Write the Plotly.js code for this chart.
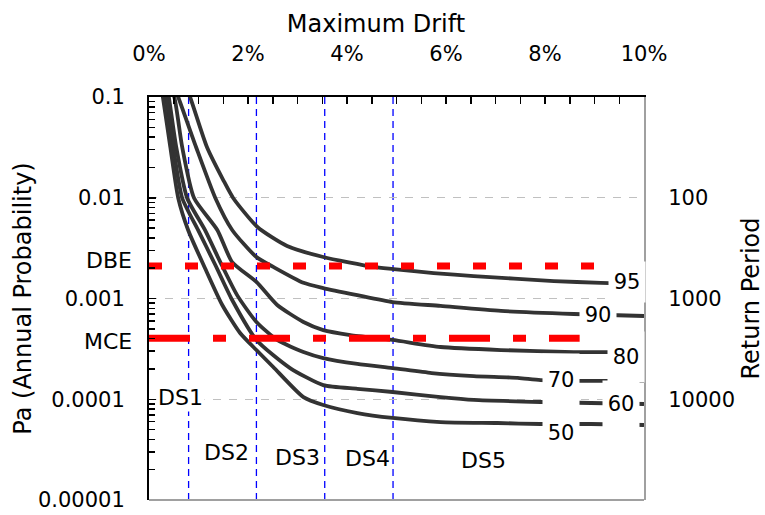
<!DOCTYPE html>
<html>
<head>
<meta charset="utf-8">
<script src="https://cdn.plot.ly/plotly-3.0.1.min.js"></script>
<style>html,body{margin:0;padding:0;background:#fff;}#chart{width:765px;height:515px;}</style>
</head>
<body>
<div id="chart"></div>
<script>
// ---- data (drift in %, Pa = annual probability) ----
const curveNames = ['95', '90', '80', '70', '60', '50'];

const drift95 = [0.69, 0.83, 1.17, 1.50, 1.70, 2.19, 2.79, 3.52, 4.53, 4.94, 5.75, 6.56, 8.18, 9.13, 10];
const pa95    = [0.148, 0.1, 0.0319, 0.015, 0.00995, 0.00513, 0.00332, 0.00258, 0.00206, 0.00196, 0.00179, 0.00167, 0.00149, 0.00143, 0.00139];

const drift90 = [0.45, 0.59, 0.95, 1.34, 1.68, 2.17, 2.51, 3.12, 3.52, 4.21, 4.92, 5.89, 7.11, 8.58, 10];
const pa90    = [0.148, 0.1, 0.0319, 0.00995, 0.00479, 0.00258, 0.00206, 0.00143, 0.00127, 0.00108, 0.000923, 0.000843, 0.000752, 0.000702, 0.00067];

const drift80 = [0.36, 0.51, 0.67, 0.91, 1.38, 1.68, 2.17, 2.59, 3.12, 3.52, 4.07, 4.92, 5.89, 7.11, 8.58, 10];
const pa80    = [0.148, 0.1, 0.0319, 0.00995, 0.00479, 0.0023, 0.00146, 0.000862, 0.000585, 0.000486, 0.000434, 0.000388, 0.00033, 0.000308, 0.000294, 0.000294];

const drift70 = [0.33, 0.40, 0.55, 0.77, 1.13, 1.44, 1.78, 2.17, 2.59, 3.12, 3.52, 4.21, 4.92, 5.71, 6.56, 7.45, 7.91, 8.93, 10];
const pa70    = [0.148, 0.1, 0.0319, 0.00995, 0.00479, 0.0023, 0.00108, 0.000585, 0.000388, 0.000294, 0.000256, 0.000224, 0.000204, 0.000182, 0.00017, 0.000163, 0.000155, 0.000152, 0.000152];

const drift60 = [0.24, 0.34, 0.49, 0.67, 0.99, 1.34, 1.68, 2.17, 2.85, 3.52, 4.21, 4.92, 5.89, 6.56, 7.91, 8.93, 10];
const pa60    = [0.148, 0.1, 0.0319, 0.00995, 0.00479, 0.00215, 0.000966, 0.000388, 0.000204, 0.000138, 0.000127, 0.000118, 0.000105, 0.0000984, 0.0000939, 0.0000918, 0.0000897];

const drift50 = [0.22, 0.28, 0.43, 0.59, 0.79, 1.13, 1.48, 1.84, 2.17, 2.51, 3.12, 3.52, 4.21, 4.92, 5.89, 7.04, 7.91, 8.93, 10];
const pa50    = [0.148, 0.1, 0.0319, 0.00995, 0.00479, 0.00201, 0.000862, 0.000455, 0.000308, 0.000209, 0.000105, 0.0000877, 0.000073, 0.0000652, 0.0000594, 0.0000581, 0.0000568, 0.0000568, 0.0000555];

// hazard levels (return period, years) drawn on the right-hand Return Period axis
const hazardNames = ['DBE', 'MCE'];
const hazardRP    = [475, 2475];
const hazardDrift = [[0, 9.0], [0, 8.7]];

// damage-state boundaries (drift %) and labels
const dsBounds = [0.80, 2.17, 3.55, 4.93];
const dsNames  = ['DS1', 'DS2', 'DS3', 'DS4', 'DS5'];
const dsLabelX = [0.63, 1.56, 3.0, 4.41, 6.76];
const dsLabelY = [0.000105, 0.0000293, 0.0000267, 0.0000261, 0.0000249];

// curve label positions (drift %, Pa)
const lblX = [9.66, 9.07, 9.64, 8.32, 9.53, 8.32];
const lblY = [0.00146, 0.000685, 0.000262, 0.000155, 0.0000897, 0.0000462];
const lblH = [40, 28, 50, 52, 46, 40];

// axis ticks
const yTickVals = [0.1, 0.01, 0.001, 0.0001, 0.00001];
const yTickText = ['0.1', '0.01', '0.001', '0.0001', '0.00001'];
const rpTickVals = [100, 1000, 10000];
const rpTickText = ['100', '1000', '10000'];

// ---- build ----
const FONT = 'DejaVu Sans, Verdana, sans-serif';
const curveX = [drift95, drift90, drift80, drift70, drift60, drift50];
const curveY = [pa95, pa90, pa80, pa70, pa60, pa50];

// minor log ticks 2..9 in each decade
const yMinor = [];
for (let e = -5; e < -1; e++) for (let d = 2; d <= 9; d++) yMinor.push(d * Math.pow(10, e));

const traces = [];
curveNames.forEach((n, i) => {
  traces.push({
    x: curveX[i], y: curveY[i], type: 'scatter', mode: 'lines', name: n,
    line: {color: '#333333', width: 3.8, shape: 'spline', smoothing: 0.6},
    showlegend: false, hoverinfo: 'skip'
  });
});
const hazardDash = ['13px,23px', '41px,23px,13px,23px'];
hazardNames.forEach((n, i) => {
  traces.push({
    x: hazardDrift[i], y: [hazardRP[i], hazardRP[i]], yaxis: 'y2', type: 'scatter', mode: 'lines', name: n,
    line: {color: '#ff0000', width: 7, dash: hazardDash[i]},
    showlegend: false, hoverinfo: 'skip'
  });
});

const shapes = dsBounds.map(v => ({
  type: 'line', xref: 'x', yref: 'paper', x0: v, x1: v, y0: 0, y1: 1,
  line: {color: '#0000ff', width: 1.3, dash: '7px,5px'}, layer: 'below'
}));
shapes.push({type: 'line', xref: 'paper', yref: 'paper', x0: 0, x1: 1, y0: 0, y1: 0,
  line: {color: '#a0a0a0', width: 2}, layer: 'above'});

const annotations = [];
curveNames.forEach((n, i) => {
  annotations.push({
    text: n, x: lblX[i], y: Math.log10(lblY[i]), xref: 'x', yref: 'y',
    showarrow: false, bgcolor: '#ffffff', width: 36, height: lblH[i], borderpad: 0,
    font: {family: FONT, size: 21, color: '#000'}
  });
});
dsNames.forEach((n, i) => {
  annotations.push({
    text: n, x: dsLabelX[i], y: Math.log10(dsLabelY[i]), xref: 'x', yref: 'y',
    showarrow: false, bgcolor: '#ffffff', borderpad: 1,
    font: {family: FONT, size: 22, color: '#000'}
  });
});
const hazShift = [5, -3];
hazardNames.forEach((n, i) => {
  annotations.push({
    text: n, x: -0.03, y: Math.log10(hazardRP[i]), xref: 'paper', yref: 'y2',
    xanchor: 'right', showarrow: false, yshift: hazShift[i],
    font: {family: FONT, size: 22, color: '#000'}
  });
});

const layout = {
  width: 765, height: 515,
  margin: {l: 149, r: 121, t: 97, b: 15},
  paper_bgcolor: '#ffffff', plot_bgcolor: '#ffffff',
  font: {family: FONT, size: 21, color: '#000'},
  title: {text: 'Maximum Drift', font: {family: FONT, size: 24, color: '#000'},
    xref: 'paper', x: 0.4586, xanchor: 'center', yref: 'container', y: 0.955, yanchor: 'middle'},
  xaxis: {
    side: 'top', range: [0, 10], tickmode: 'linear', tick0: 0, dtick: 2, ticksuffix: '%',
    ticks: 'inside', ticklen: 7, tickwidth: 1.5, tickcolor: '#000',
    minor: {dtick: 0.5, tick0: 0, ticks: 'inside', ticklen: 7, tickwidth: 1.5, tickcolor: '#000', showgrid: false},
    showline: true, linecolor: '#000', linewidth: 2, showgrid: false, zeroline: false,
    ticklabelstandoff: 26, tickfont: {family: FONT, size: 21, color: '#000'}
  },
  yaxis: {
    type: 'log', range: [-5, -1], tickmode: 'array', tickvals: yTickVals, ticktext: yTickText,
    ticks: 'inside', ticklen: 7, tickwidth: 1.5, tickcolor: '#000',
    minor: {tickmode: 'array', tickvals: yMinor, ticks: 'inside', ticklen: 6, tickwidth: 1.5, tickcolor: '#000', showgrid: false},
    showline: true, linecolor: '#000', linewidth: 2,
    showgrid: true, gridcolor: '#c0c0c0', gridwidth: 1, griddash: '8px,8px',
    zeroline: false, ticklabelstandoff: 18,
    tickfont: {family: FONT, size: 21, color: '#000'},
    title: {text: 'Pa (Annual Probability)', font: {family: FONT, size: 24, color: '#000'}, standoff: 0}
  },
  yaxis2: {
    type: 'log', overlaying: 'y', side: 'right', anchor: 'x', range: [5, 1], autorange: false,
    tickmode: 'array', tickvals: rpTickVals, ticktext: rpTickText,
    ticks: '', showline: true, linecolor: '#a0a0a0', linewidth: 2, showgrid: false, zeroline: false,
    ticklabelstandoff: 18, tickfont: {family: FONT, size: 21, color: '#000'},
    title: {text: 'Return Period', font: {family: FONT, size: 24, color: '#000'}, standoff: 22}
  },
  shapes: shapes,
  annotations: annotations,
  showlegend: false
};

Plotly.newPlot('chart', traces, layout, {staticPlot: true, displayModeBar: false});
</script>
</body>
</html>
